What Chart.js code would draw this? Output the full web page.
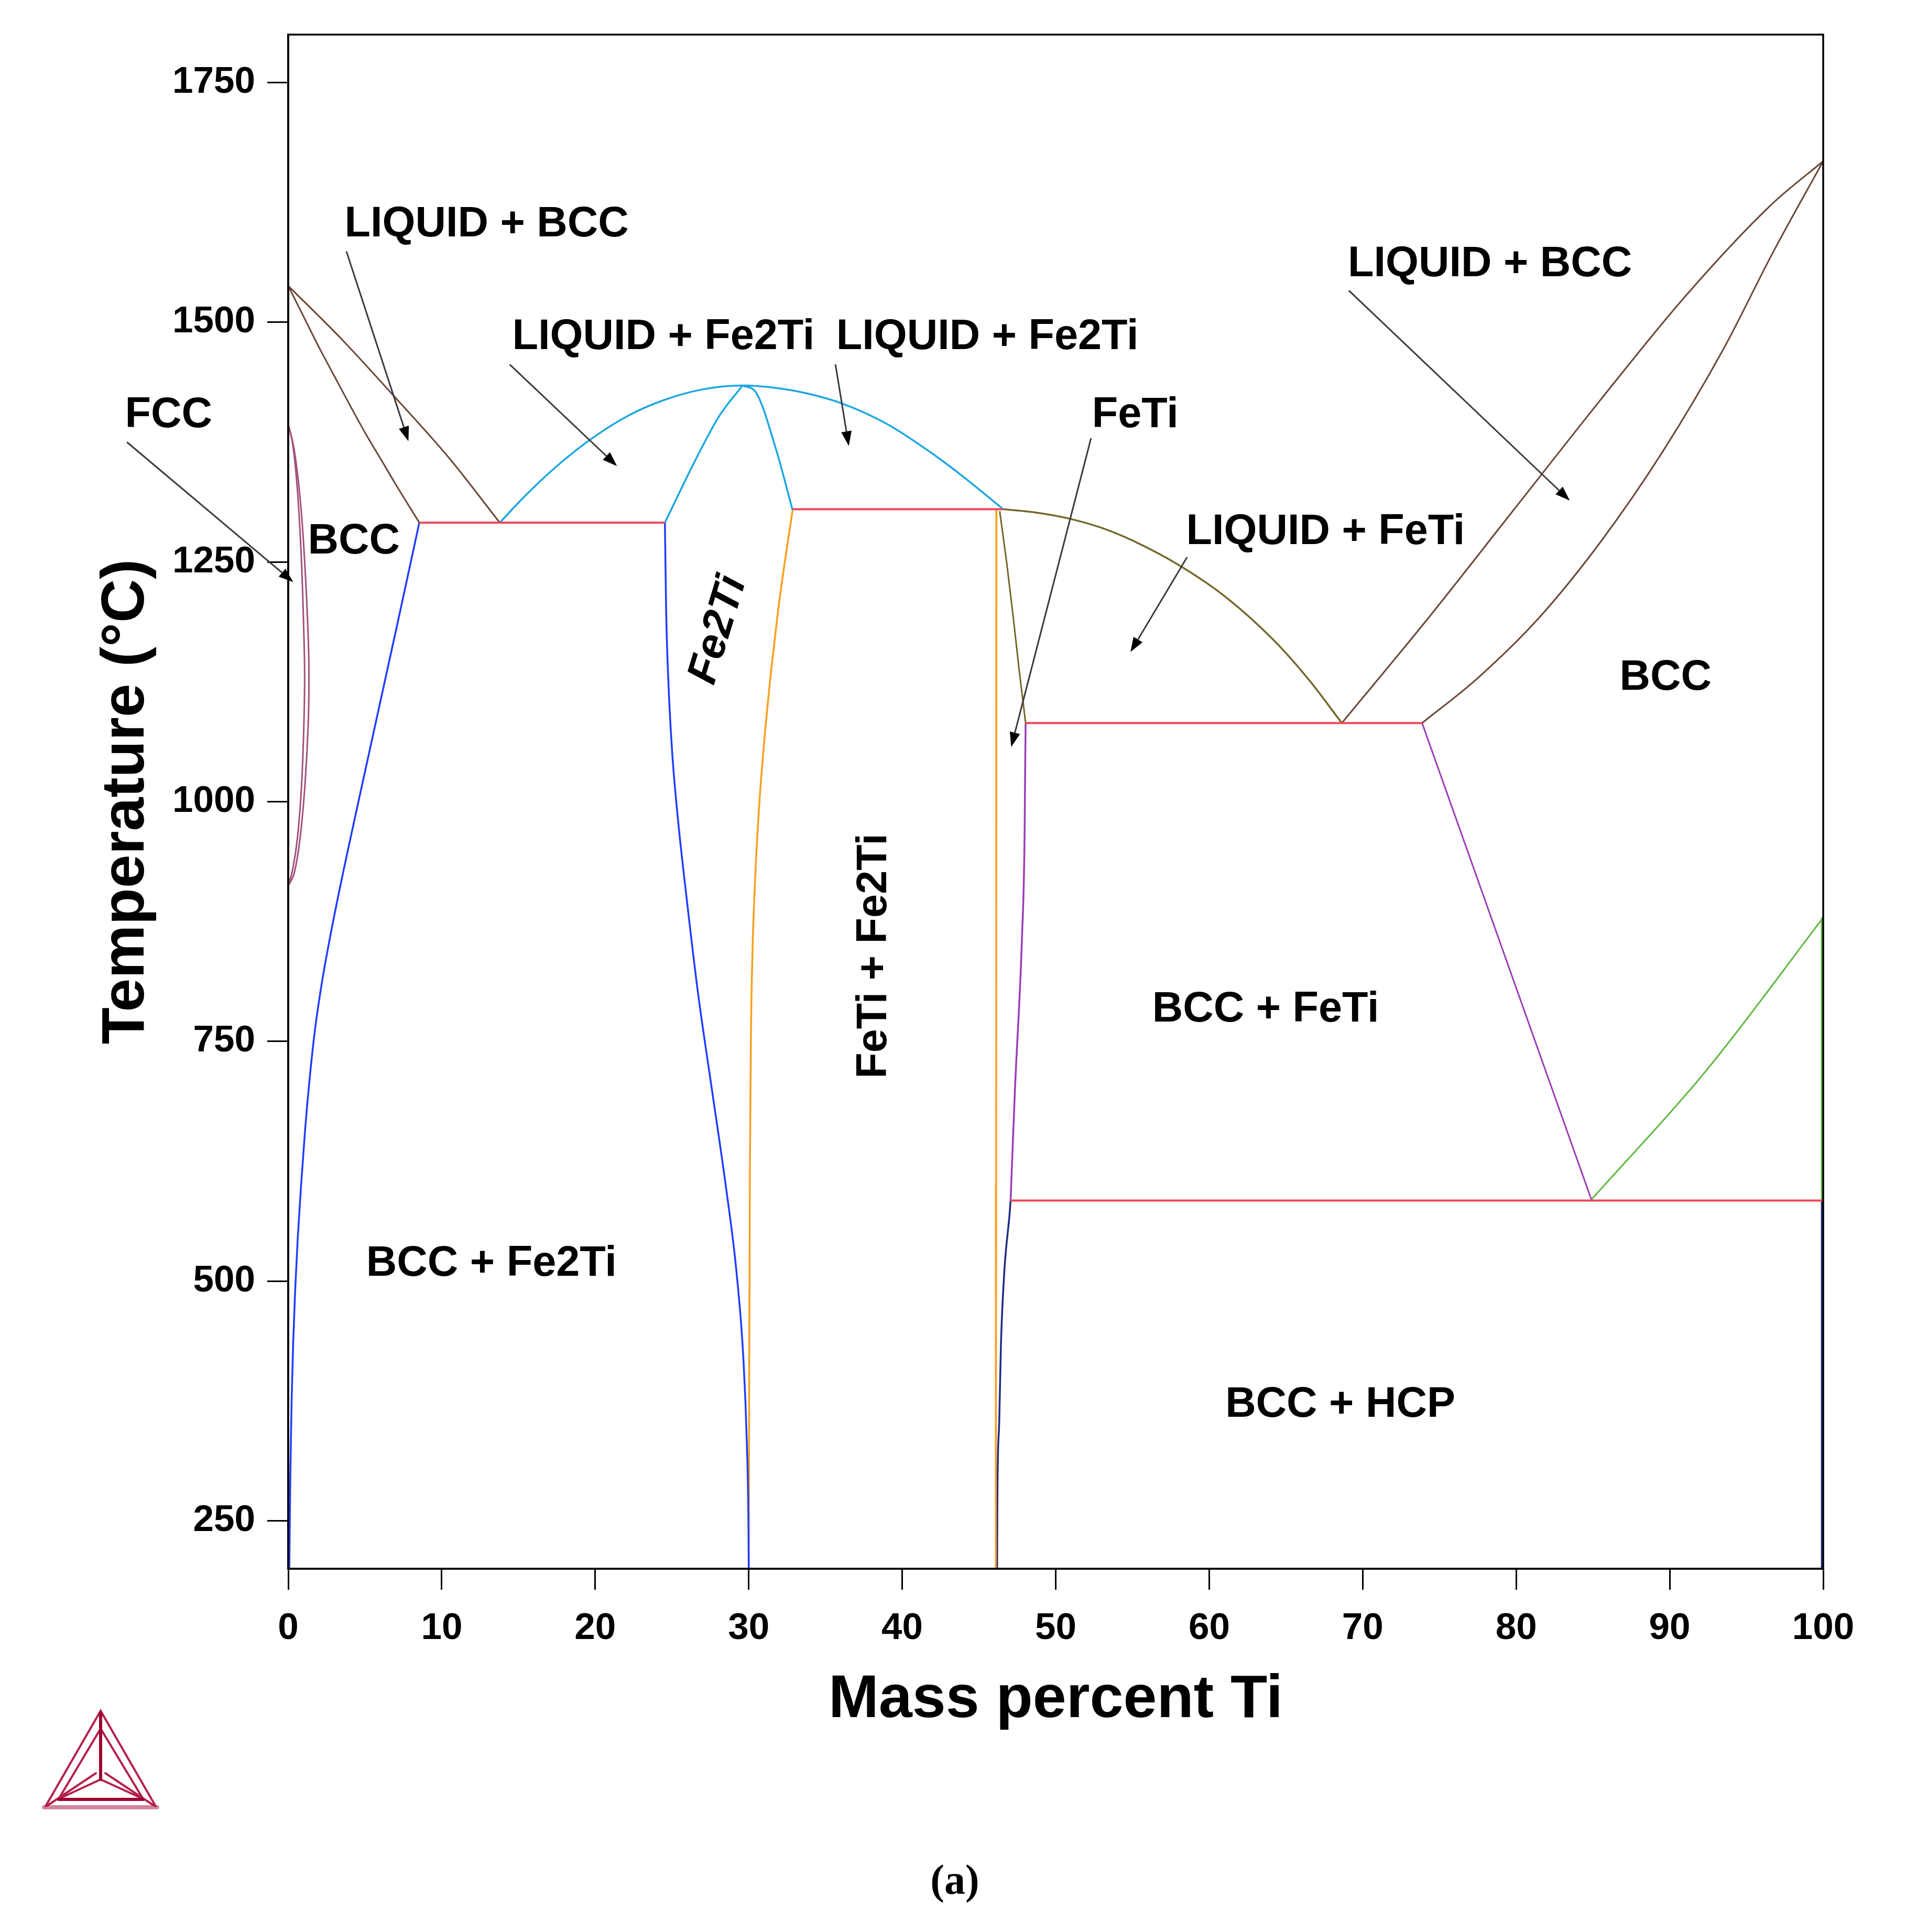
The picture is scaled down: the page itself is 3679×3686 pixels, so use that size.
<!DOCTYPE html>
<html>
<head>
<meta charset="utf-8">
<script src="https://cdn.jsdelivr.net/npm/chart.js@4.4.1/dist/chart.umd.min.js"></script>
<style>
  html, body { margin: 0; padding: 0; background: #ffffff; }
  #wrap { width: 3679px; height: 3686px; }
</style>
</head>
<body>
<div id="wrap"><canvas id="phaseChart" width="3679" height="3686"></canvas></div>
<script>
"use strict";

/* tick labels */
var xTicks = [0, 10, 20, 30, 40, 50, 60, 70, 80, 90, 100];
var tempTicks = [250, 500, 750, 1000, 1250, 1500, 1750];

/* phase boundaries as [mass percent Ti, temperature C] */
var fccLoopInner = [[0, 1394], [0.3, 1372], [0.6, 1325], [0.85, 1255], [1.0, 1185], [1.07, 1130], [1.0, 1070], [0.85, 1012], [0.6, 962], [0.3, 930], [0, 912]];
var fccLoopOuter = [[0, 1394], [0.4, 1366], [0.8, 1312], [1.1, 1242], [1.3, 1172], [1.35, 1130], [1.3, 1080], [1.1, 1020], [0.8, 966], [0.4, 926], [0, 912]];
var feLiquidus = [[0, 1538], [3.5, 1482], [7, 1421], [10.5, 1358], [13.78, 1291]];
var feSolidus = [[0, 1538], [1, 1506], [2, 1474], [3, 1444], [4, 1414], [5, 1385], [6, 1358], [7, 1331], [8.54, 1291]];
var bccSolvusFe = [[8.54, 1291], [7.2, 1192], [5.9, 1097], [4.6, 1002], [3.6, 928], [2.8, 865], [2.2, 812], [1.75, 763], [1.4, 712], [1.1, 658], [0.85, 603], [0.62, 545], [0.45, 490], [0.32, 435], [0.22, 375], [0.14, 300], [0.09, 230], [0.07, 200]];
var fe2tiLiquidus = [[13.78, 1291], [15.5, 1320], [17.5, 1350], [19.8, 1379], [22.2, 1403], [24.5, 1419], [27, 1430], [29.6, 1434], [32, 1431], [34, 1425], [36.13, 1415], [39, 1394], [41.79, 1365], [43.97, 1339], [46.58, 1305]];
var fe2tiSolidusLeft = [[24.54, 1291], [26.55, 1357], [28.07, 1402], [29.6, 1434]];
var fe2tiSolidusRight = [[29.6, 1434], [30.46, 1427], [31.77, 1368], [32.86, 1304]];
var fe2tiSolvusLeft = [[24.54, 1291], [24.62, 1200], [24.78, 1120], [25.02, 1050], [25.4, 980], [25.95, 900], [26.7, 800], [27.6, 700], [28.5, 600], [29.2, 510], [29.65, 420], [29.88, 330], [29.98, 250], [30.0, 200]];
var fe2tiSolvusRight = [[32.86, 1304], [32.35, 1250], [31.88, 1195], [31.45, 1135], [31.05, 1070], [30.7, 1000], [30.42, 920], [30.24, 840], [30.14, 750], [30.08, 620], [30.04, 450], [30.0, 200]];
var fetiSolvusLeft = [[46.14, 1304], [46.13, 900], [46.12, 600], [46.1, 200]];
var fetiLiquidus = [[46.58, 1305], [48.5, 1302], [50.94, 1295], [53, 1285.5], [55.05, 1272], [58.1, 1246], [61.15, 1212.5], [64.2, 1168.5], [66.5, 1127], [68.64, 1082]];
var fetiSolidus = [[46.35, 1303], [46.8, 1250], [47.2, 1197], [47.6, 1140], [48.04, 1082]];
var fetiSolvusBcc = [[48.04, 1082], [48.0, 1016], [47.97, 961], [47.8, 857], [47.34, 698], [47.06, 584]];
var fetiSolvusHcp = [[47.06, 584], [47.0, 571], [46.66, 512], [46.43, 433], [46.32, 353], [46.2, 274], [46.18, 200]];
var tiLiquidus = [[68.64, 1082], [74.3, 1192], [79.87, 1305], [85.44, 1418], [91.01, 1527], [96.58, 1622], [100, 1668]];
var tiSolidus = [[73.87, 1082], [77.5, 1129], [81.5, 1192], [85.5, 1271], [89.5, 1364], [93.5, 1472], [96.7, 1572], [100, 1668]];
var bccFetiBoundary = [[73.87, 1082], [84.9, 585]];
var bccHcpBoundary = [[84.9, 585], [92.3, 718], [100, 879]];
var tiBccEdge = [[99.92, 585], [99.92, 879]];
var tiHcpEdge = [[99.92, 200], [99.92, 585]];
var eutecticFe2tiBcc = [[8.54, 1291], [24.54, 1291]];
var eutecticFe2tiFeti = [[32.86, 1305], [46.58, 1305]];
var eutecticFetiBcc = [[48.04, 1082], [73.87, 1082]];
var eutectoidFetiHcp = [[47.06, 584], [100, 584]];

/* region labels and their arrows, in data units */
var regionLabels = [
    { text: 'LIQUID + BCC', x: 12.93, y: 1602 },
    { text: 'LIQUID + Fe2Ti', x: 24.44, y: 1484 },
    { text: 'LIQUID + Fe2Ti', x: 45.55, y: 1484 },
    { text: 'FeTi', x: 55.18, y: 1403 },
    { text: 'FCC', x: -7.79, y: 1403 },
    { text: 'BCC', x: 4.28, y: 1271 },
    { text: 'LIQUID + BCC', x: 78.29, y: 1560 },
    { text: 'LIQUID + FeTi', x: 67.58, y: 1281 },
    { text: 'BCC', x: 89.73, y: 1129 },
    { text: 'BCC + FeTi', x: 63.68, y: 783 },
    { text: 'BCC + Fe2Ti', x: 13.24, y: 518 },
    { text: 'BCC + HCP', x: 68.54, y: 371 },
    { text: 'FeTi + Fe2Ti', x: 38.2, y: 839, rotate: -90 },
    { text: 'Fe2Ti', x: 28.03, y: 1179, rotate: -73, italic: true }
];
var arrows = [
    { from: [-10.51, 1375], to: [0.33, 1229] },
    { from: [3.79, 1574], to: [7.83, 1376] },
    { from: [14.43, 1456], to: [21.42, 1350] },
    { from: [35.65, 1456], to: [36.52, 1371] },
    { from: [52.3, 1379], to: [47.1, 1057] },
    { from: [58.56, 1255], to: [54.87, 1156] },
    { from: [69.1, 1533], to: [83.49, 1314] }
];

var BROWN = '#6b4536', CYAN = '#1ba6e2', BLUE = '#1f3dff', ORANGE = '#f8a01e',
    OLIVE = '#75672a', PURPLE = '#9b3db8', NAVY = '#1e2b84', GREEN = '#5cb83c',
    RED = '#ec4858', MAUVE = '#a3527a';

/* smooth: 'm' = monotone spline, a number = bezier tension, 0 = straight */
function curve(points, color, width, smooth) {
    var ds = {
        data: points.map(function (p) { return { x: p[0], y: p[1] }; }),
        borderColor: color,
        borderWidth: width,
        showLine: true,
        pointRadius: 0,
        fill: false,
        tension: 0
    };
    if (smooth === 'm') {
        ds.cubicInterpolationMode = 'monotone';
    } else {
        ds.tension = smooth;
    }
    return ds;
}

var datasets = [
    curve(eutecticFe2tiBcc, RED, 4, 0),
    curve(eutecticFe2tiFeti, RED, 4, 0),
    curve(eutecticFetiBcc, RED, 4, 0),
    curve(eutectoidFetiHcp, RED, 4, 0),
    curve(fccLoopInner, MAUVE, 3, 0.4),
    curve(fccLoopOuter, MAUVE, 3, 0.4),
    curve(feLiquidus, BROWN, 3, 'm'),
    curve(feSolidus, BROWN, 3, 'm'),
    curve(bccSolvusFe, BLUE, 3.5, 'm'),
    curve(fe2tiLiquidus, CYAN, 3.5, 'm'),
    curve(fe2tiSolidusLeft, CYAN, 3.5, 'm'),
    curve(fe2tiSolidusRight, CYAN, 3.5, 'm'),
    curve(fe2tiSolvusLeft, BLUE, 3.5, 'm'),
    curve(fe2tiSolvusRight, ORANGE, 3.5, 'm'),
    curve(fetiSolvusLeft, ORANGE, 3.5, 0),
    curve(fetiLiquidus, OLIVE, 3.5, 'm'),
    curve(fetiSolidus, OLIVE, 3, 'm'),
    curve(fetiSolvusBcc, PURPLE, 3.5, 'm'),
    curve(fetiSolvusHcp, NAVY, 3.5, 'm'),
    curve(tiLiquidus, BROWN, 3, 'm'),
    curve(tiSolidus, BROWN, 3, 'm'),
    curve(bccFetiBoundary, PURPLE, 3, 0),
    curve(bccHcpBoundary, GREEN, 3, 'm'),
    curve(tiBccEdge, GREEN, 4, 0),
    curve(tiHcpEdge, NAVY, 4, 0)
];

function drawArrow(ctx, x0, y0, x1, y1) {
    var ang = Math.atan2(y1 - y0, x1 - x0);
    var head = 28, half = 10;
    var bx = x1 - head * Math.cos(ang), by = y1 - head * Math.sin(ang);
    ctx.strokeStyle = '#3a3a3a';
    ctx.lineWidth = 3;
    ctx.beginPath();
    ctx.moveTo(x0, y0);
    ctx.lineTo(bx, by);
    ctx.stroke();
    ctx.fillStyle = '#000';
    ctx.beginPath();
    ctx.moveTo(x1, y1);
    ctx.lineTo(bx + half * Math.sin(ang), by - half * Math.cos(ang));
    ctx.lineTo(bx - half * Math.sin(ang), by + half * Math.cos(ang));
    ctx.closePath();
    ctx.fill();
}

function drawLogo(ctx) {
    // Thermo-Calc style triangle mark, bottom left of the page
    ctx.save();
    ctx.lineCap = 'round';
    ctx.strokeStyle = '#d0869c';
    ctx.lineWidth = 8;
    ctx.beginPath(); ctx.moveTo(84, 3448); ctx.lineTo(300, 3448); ctx.stroke();
    ctx.strokeStyle = '#b3204a';
    ctx.lineWidth = 4;
    ctx.beginPath();
    ctx.moveTo(87, 3446); ctx.lineTo(192, 3264); ctx.lineTo(297, 3446);
    ctx.moveTo(112, 3432); ctx.lineTo(192, 3298); ctx.lineTo(273, 3432);
    ctx.moveTo(112, 3432); ctx.lineTo(192, 3395); ctx.lineTo(273, 3432);
    ctx.moveTo(90, 3445); ctx.lineTo(183, 3383);
    ctx.moveTo(294, 3445); ctx.lineTo(201, 3383);
    ctx.stroke();
    ctx.strokeStyle = '#a0002e';
    ctx.lineWidth = 6;
    ctx.beginPath();
    ctx.moveTo(112, 3433); ctx.lineTo(273, 3433);
    ctx.moveTo(192, 3268); ctx.lineTo(192, 3395);
    ctx.stroke();
    ctx.restore();
}

var overlayPlugin = {
    id: 'overlay',
    afterDraw: function (chart) {
        var ctx = chart.ctx;
        var xs = chart.scales.x, ys = chart.scales.y, a = chart.chartArea;
        ctx.save();
        ctx.strokeStyle = '#000';
        ctx.lineWidth = 3.5;
        ctx.strokeRect(a.left, a.top, a.right - a.left, a.bottom - a.top);

        arrows.forEach(function (ar) {
            drawArrow(ctx, xs.getPixelForValue(ar.from[0]), ys.getPixelForValue(ar.from[1]),
                xs.getPixelForValue(ar.to[0]), ys.getPixelForValue(ar.to[1]));
        });

        ctx.fillStyle = '#000';
        ctx.textAlign = 'center';
        ctx.textBaseline = 'middle';
        regionLabels.forEach(function (lb) {
            ctx.save();
            ctx.translate(xs.getPixelForValue(lb.x), ys.getPixelForValue(lb.y));
            if (lb.rotate) {
                ctx.rotate(lb.rotate * Math.PI / 180);
            }
            ctx.font = (lb.italic ? 'italic ' : '') + 'bold 81px "Liberation Sans", Arial, sans-serif';
            ctx.fillText(lb.text, 0, 0);
            ctx.restore();
        });

        ctx.font = 'bold 80px "Liberation Serif", "Times New Roman", serif';
        ctx.fillText('(a)', 1822, 3592);
        ctx.restore();

        drawLogo(ctx);
    }
};

var tickFont = { family: '"Liberation Sans", Arial, sans-serif', size: 71, weight: 'bold' };
var titleFont = { family: '"Liberation Sans", Arial, sans-serif', size: 115, weight: 'bold' };

var chart = new Chart(document.getElementById('phaseChart'), {
    type: 'scatter',
    data: { datasets: datasets },
    plugins: [overlayPlugin],
    options: {
        responsive: false,
        animation: false,
        devicePixelRatio: 1,
        layout: { padding: { top: 66, right: 200, bottom: 0, left: 0 } },
        plugins: { legend: { display: false }, tooltip: { enabled: false } },
        scales: {
            x: {
                type: 'linear',
                min: 0,
                max: 100,
                border: { display: true, color: '#000', width: 3.5 },
                grid: { drawOnChartArea: false, drawTicks: true, tickLength: 40, tickWidth: 3, tickColor: '#000', color: '#000' },
                ticks: { padding: 32, color: '#000', font: tickFont, maxRotation: 0, autoSkip: false,
                    callback: function (v) { return String(v); } },
                title: { display: true, text: 'Mass percent Ti', color: '#000', font: titleFont, padding: { top: 0, bottom: 373 } },
                afterBuildTicks: function (s) { s.ticks = xTicks.map(function (v) { return { value: v }; }); },
                afterFit: function (s) { s.height = 693; s.paddingLeft = 0; s.paddingRight = 0; }
            },
            y: {
                type: 'linear',
                min: 200,
                max: 1800,
                border: { display: true, color: '#000', width: 3.5 },
                grid: { drawOnChartArea: false, drawTicks: true, tickLength: 40, tickWidth: 3, tickColor: '#000', color: '#000' },
                ticks: { padding: 23, color: '#000', font: tickFont, autoSkip: false,
                    callback: function (v) { return String(v); } },
                title: { display: true, text: 'Temperature (°C)', color: '#000', font: titleFont, padding: { top: 173, bottom: 0 } },
                afterBuildTicks: function (s) { s.ticks = tempTicks.map(function (v) { return { value: v }; }); },
                afterFit: function (s) { s.width = 550; s.paddingTop = 0; s.paddingBottom = 0; }
            }
        }
    }
});
</script>
</body>
</html>
